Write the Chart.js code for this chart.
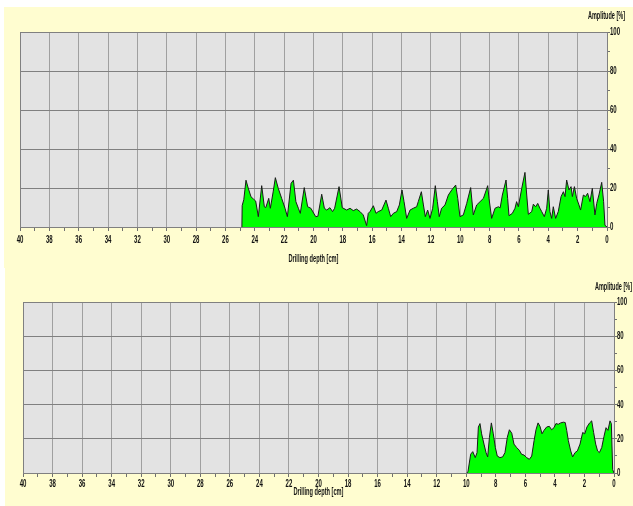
<!DOCTYPE html>
<html><head><meta charset="utf-8">
<script src="https://cdn.jsdelivr.net/npm/chart.js@4"></script>
<style>
html,body{margin:0;padding:0;background:#fff;width:633px;height:506px;overflow:hidden}
.panel{position:absolute;background:#FFFDD0}
canvas{position:absolute;left:0}
</style></head><body>
<div class="panel" style="left:4px;top:7px;width:629px;height:261px"></div>
<div class="panel" style="left:5px;top:268px;width:628px;height:238px"></div>
<canvas id="c1" width="633" height="268" style="top:0;width:633px;height:268px"></canvas>
<canvas id="c2" width="633" height="238" style="top:268px;width:633px;height:238px"></canvas>
<script>
// ---- data ----
const xTitle = 'Drilling depth [cm]';
const yTitle = 'Amplitude [%]';
const depthMin = 0, depthMax = 40;
const ampMin = 0, ampMax = 100;

const topDepth = [24.88,24.86,24.75,24.6,24.45,24.26,24.1,23.94,23.76,23.53,23.35,23.25,23.05,22.94,22.75,22.6,22.4,22.17,21.94,21.78,21.53,21.37,21.2,21.03,20.9,20.63,20.4,20.18,19.85,19.7,19.44,19.26,19.1,18.88,18.7,18.56,18.26,18.04,17.74,17.51,17.29,17.06,16.83,16.61,16.38,16.27,16.15,15.92,15.74,15.59,15.35,15.06,14.9,14.74,14.56,14.33,14.15,13.97,13.83,13.65,13.42,13.2,12.97,12.86,12.65,12.51,12.38,12.22,12.06,11.88,11.7,11.56,11.43,11.27,11.04,10.81,10.58,10.31,10.17,10.02,9.79,9.56,9.29,9.11,8.88,8.65,8.42,8.25,8.13,8.04,7.86,7.63,7.4,7.28,7.13,6.88,6.77,6.68,6.45,6.27,6.16,6.04,5.81,5.59,5.47,5.36,5.13,5.02,4.86,4.72,4.57,4.45,4.27,4.11,4.0,3.89,3.77,3.66,3.5,3.32,3.13,2.97,2.86,2.75,2.59,2.45,2.36,2.22,2.07,1.91,1.8,1.61,1.46,1.32,1.16,1.0,0.82,0.7,0.55,0.36,0.23,0.14,0];
const topAmp = [0,11,14,24,20,15.5,14.4,13.3,5.3,21.2,10.4,10,14.7,9.6,18,25.3,19.8,14.7,9.6,5.3,22.4,24,13,9.6,7,20.2,10.4,9.6,5.3,5.5,16.8,9.6,8.7,9.9,7.9,9.6,20.7,9.9,8.7,9.6,8.4,9.2,7.9,6.2,0.7,7,7.9,10.9,7,7.9,8.7,13.8,9.6,5.3,7,7.9,11.3,19,13,4.4,8.7,9.6,10.4,13,18.1,11.3,5.3,8.7,4.4,9.6,21.2,13,5.3,9.6,11.3,16.4,19,21.5,14.7,5.3,6.2,12.1,20.2,6.2,11.3,13,14.7,18.5,21.2,14.7,4.4,9.6,10.4,9.8,16.4,24.1,14.7,5.8,7,9.6,13,10.4,19.8,28,16.4,6.5,7.9,11.7,10.4,12.1,9.6,7.9,5.3,9.6,19,7.9,4.4,10.4,4.4,7.9,15.6,18.1,15.6,24.1,19,20.7,15.6,20.7,14.7,11.3,8.7,16.4,15.6,17.3,13,19.8,6.2,12.1,16.4,22.9,13,0.9,0];

const bottomDepth = [9.95,9.88,9.7,9.56,9.39,9.27,9.18,9.07,8.96,8.8,8.66,8.55,8.43,8.3,8.17,8.03,7.9,7.72,7.54,7.38,7.22,7.08,6.92,6.77,6.59,6.41,6.25,6.09,5.91,5.73,5.57,5.41,5.28,5.14,5.01,4.87,4.74,4.56,4.38,4.22,4.06,3.93,3.77,3.61,3.43,3.3,3.2,3.09,2.93,2.8,2.64,2.48,2.3,2.12,1.98,1.83,1.65,1.51,1.38,1.24,1.11,0.99,0.83,0.68,0.54,0.41,0.27,0.18,0.09,0];
const bottomAmp = [0,1,11,12.5,9,11.9,26.9,28.9,22.9,16.9,11.9,9.4,20.9,29.3,22.9,14.9,9.9,9,9.4,11.9,20.9,25.3,23.3,16.9,14.9,13.3,10.9,10.5,9,8,9.9,18.9,25.3,29.3,27.3,22.9,24.9,26.9,27.3,25.3,26.5,28.9,28.5,29.3,29.7,29.5,24.9,18.9,12.9,9.4,11.9,12.9,16.9,23.7,22.9,26.9,29.3,30.5,23.7,16.9,12.9,11.9,14.9,21.3,26.5,24.9,30.5,28.9,2,0];

// ---- styling ----
const FONT = "'Liberation Sans',Arial,sans-serif";
const TEXT = '#111111';
Chart.defaults.font.family = FONT;
Chart.defaults.color = TEXT;

// draws horizontally condensed text (the reference uses a narrow face)
function narrowText(ctx, s, x, y, align, font, sx, targetW) {
  ctx.save();
  ctx.font = font;
  if (targetW) sx = targetW / ctx.measureText(s).width;
  ctx.translate(x, y);
  ctx.scale(sx, 1);
  ctx.textAlign = align;
  ctx.textBaseline = 'middle';
  ctx.fillStyle = TEXT;
  ctx.fillText(s, 0, 0);
  ctx.restore();
}

const decor = {
  id: 'decor',
  beforeDraw(chart) {
    const {ctx, chartArea: a} = chart;
    ctx.save();
    ctx.fillStyle = '#E3E3E3';
    ctx.fillRect(a.left, a.top, a.right - a.left, a.bottom - a.top);
    ctx.restore();
  },
  afterDraw(chart, args, o) {
    const {ctx, chartArea: a} = chart;
    const xs = chart.scales.x, ys = chart.scales.y;
    ctx.save();
    ctx.strokeStyle = '#808080';
    ctx.lineWidth = 1;
    ctx.beginPath();
    ctx.moveTo(a.left + 0.5, a.top);
    ctx.lineTo(a.left + 0.5, a.bottom);
    ctx.stroke();
    ctx.restore();
    const numFont = 'bold 11px ' + FONT;
    xs.ticks.forEach(t => {
      if (t.value % 2 === 0) narrowText(ctx, String(t.value), xs.getPixelForValue(t.value), o.xLabelY, 'center', numFont, 0.55);
    });
    ys.ticks.forEach(t => {
      if (t.value % 20 === 0) narrowText(ctx, String(t.value), o.yLabelX, ys.getPixelForValue(t.value), 'left', numFont, 0.55);
    });
    narrowText(ctx, xTitle, (a.left + a.right) / 2, o.xTitleY, 'center', 'bold 10px ' + FONT, 0, o.xTitleW);
    narrowText(ctx, yTitle, o.tx, o.ty, 'right', 'bold 10px ' + FONT, 0, o.yTitleW);
  }
};

function makeChart(id, depth, amp, L) {
  const pts = depth.map((d, i) => ({x: d, y: amp[i]}));
  return new Chart(document.getElementById(id), {
    type: 'line',
    data: { datasets: [{
      data: pts, fill: 'origin', backgroundColor: '#00FF00',
      borderColor: '#1a1a1a', borderWidth: 1, pointRadius: 0, tension: 0
    }]},
    options: {
      responsive: false, animation: false, devicePixelRatio: 1,
      layout: { padding: { left: L.padLeft, top: L.padTop, right: 0, bottom: 0 } },
      plugins: { legend: {display: false}, tooltip: {enabled: false}, decor: L },
      scales: {
        x: {
          type: 'linear', position: 'bottom', reverse: true, min: depthMin, max: depthMax,
          ticks: { stepSize: 1, autoSkip: false, maxRotation: 0, display: false },
          grid: { color: c => (c.tick && c.tick.value % 2 === 0) ? '#A0A0A0' : 'rgba(0,0,0,0)',
            tickColor: '#707070', tickLength: 4 },
          border: { color: '#808080' },
          title: { display: false },
          afterFit: s => { s.height = L.xH; }
        },
        y: {
          type: 'linear', position: 'right', min: ampMin, max: ampMax,
          ticks: { stepSize: 10, display: false },
          grid: { color: c => (c.tick && c.tick.value % 20 === 0) ? '#808080' : 'rgba(0,0,0,0)',
            tickColor: '#707070', tickLength: 3 },
          border: { color: '#808080' },
          afterFit: s => { s.width = L.yW; }
        }
      }
    },
    plugins: [decor]
  });
}

makeChart('c1', topDepth, topAmp, {padLeft: 20, padTop: 32, yW: 26, xH: 41,
  xLabelY: 239.5, yLabelX: 610, xTitleY: 259, xTitleW: 50, tx: 625, ty: 16, yTitleW: 37});
makeChart('c2', bottomDepth, bottomAmp, {padLeft: 23, padTop: 34, yW: 19, xH: 33,
  xLabelY: 216, yLabelX: 617, xTitleY: 224.5, xTitleW: 50, tx: 632, ty: 19, yTitleW: 37});
</script>
</body></html>
